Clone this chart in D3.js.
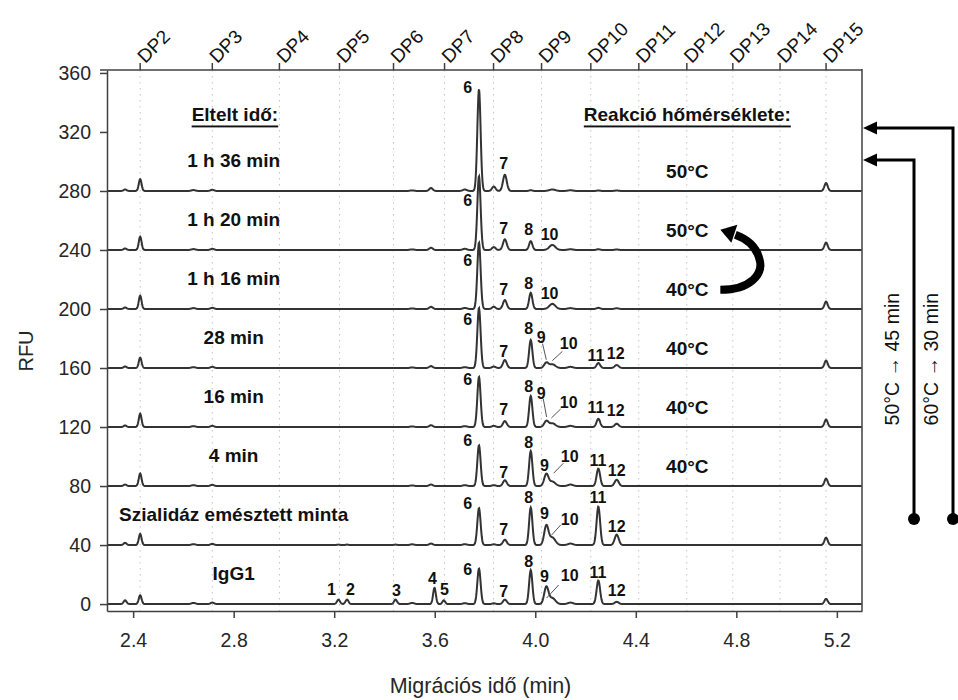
<!DOCTYPE html>
<html>
<head>
<meta charset="utf-8">
<script src="https://cdn.jsdelivr.net/npm/d3@7"></script>
<style>
  body { margin: 0; background: #fff; }
  text { font-family: "Liberation Sans", Arial, sans-serif; }
</style>
</head>
<body>
<div id="chart"></div>
<script>
// csúcsok: migrációs idő (min) és szélesség (szigma, min)
const peakTimes  = [2.368, 2.428, 2.640, 2.715, 3.217, 3.251, 3.444, 3.510, 3.585, 3.599, 3.636,
                    3.720, 3.776, 3.835, 3.879, 3.982, 4.044, 4.068, 4.140, 4.251, 4.324, 5.157];
const peakSigmas = [0.006, 0.0055, 0.008, 0.007, 0.006, 0.006, 0.006, 0.008, 0.007, 0.0055, 0.0055,
                    0.008, 0.0065, 0.007, 0.0075, 0.0065, 0.0085, 0.012, 0.01, 0.007, 0.008, 0.0065];

// csúcsmagasságok (RFU) mintánként, a peakTimes sorrendjében
const hIgG1  = [2.5, 6, 0.8, 1, 3, 3, 3, 0.8, 0, 11, 2.5, 0.6, 24, 0.5, 3, 23, 11.5, 4, 1, 16, 1.5, 3.5];
const hSzial = [1.5, 7.5, 0.6, 0.8, 0.3, 0.3, 0.3, 0.5, 1, 0, 0, 0.6, 25, 0.5, 3.6, 25.5, 13, 5, 1, 26, 7, 5];
const h4min  = [1, 8.5, 0.6, 0.8, 0, 0, 0, 0.4, 1, 0, 0, 0.6, 27.6, 0.6, 3.9, 23.7, 8, 3, 1, 11.8, 4.3, 5];
const h16min = [1, 9, 0.6, 0.8, 0, 0, 0, 0.4, 1.2, 0, 0, 0.6, 34, 0.8, 4, 21, 4, 2.5, 0.8, 5.6, 2.2, 5];
const h28min = [1, 7, 0.6, 0.8, 0, 0, 0, 0.4, 1.3, 0, 0, 0.6, 40.7, 1, 5.4, 19, 3.5, 2.5, 0.8, 3.4, 2, 5];
const h1h16  = [1, 9, 0.6, 0.8, 0, 0, 0, 0.4, 1.5, 0, 0, 0.7, 45, 1.5, 6, 11, 0, 3.5, 0.6, 0.8, 0.5, 5];
const h1h20  = [1, 9, 0.6, 0.8, 0, 0, 0, 0.4, 1.5, 0, 0, 0.8, 50, 2, 7.2, 6, 0, 3.4, 0.5, 0.5, 0.3, 5];
const h1h36  = [1, 8, 0.6, 0.8, 0, 0, 0, 0.4, 2, 0, 0, 1, 69, 3, 11, 0.5, 0, 1, 0.5, 0.3, 0.3, 5.4];

const traceNames   = ["IgG1", "Szialidáz emésztett minta", "4 min", "16 min", "28 min", "1 h 16 min", "1 h 20 min", "1 h 36 min"];
const traceOffsets = [0, 40, 80, 120, 160, 200, 240, 280];
const traceTemps   = ["", "", "40°C", "40°C", "40°C", "40°C", "50°C", "50°C"];
const traceHeights = [hIgG1, hSzial, h4min, h16min, h28min, h1h16, h1h20, h1h36];

// csúcsjelölések: [szöveg, idő, RFU az alapvonal fölött]
const labIgG1  = [["1", 3.189, 10.2], ["2", 3.265, 10.2], ["3", 3.448, 9.5], ["4", 3.591, 17.6], ["5", 3.639, 10.2],
                  ["6", 3.731, 23.7], ["7", 3.874, 8.8], ["8", 3.974, 29], ["9", 4.037, 19], ["10", 4.137, 19.7],
                  ["11", 4.249, 21.7], ["12", 4.324, 9.5]];
const labSzial = [["6", 3.731, 28.5], ["7", 3.874, 10.8], ["8", 3.974, 31.9], ["9", 4.037, 21.7], ["10", 4.137, 17.6],
                  ["11", 4.249, 32.5], ["12", 4.324, 12.9]];
const lab4min  = [["6", 3.731, 31.2], ["7", 3.874, 9.5], ["8", 3.974, 29.2], ["9", 4.037, 14.2], ["10", 4.137, 19.7],
                  ["11", 4.249, 17.6], ["12", 4.324, 10.2]];
const lab16min = [["6", 3.731, 32.5], ["7", 3.874, 12.2], ["8", 3.974, 27.8], ["9", 4.024, 22.4], ["10", 4.133, 16.9],
                  ["11", 4.241, 12.9], ["12", 4.32, 11.5]];
const lab28min = [["6", 3.731, 33.2], ["7", 3.874, 11.5], ["8", 3.974, 27.1], ["9", 4.024, 21], ["10", 4.133, 16.3],
                  ["11", 4.241, 8.8], ["12", 4.32, 9.5]];
const lab1h16  = [["6", 3.731, 33.2], ["7", 3.874, 12.9], ["8", 3.974, 17], ["10", 4.057, 10.8]];
const lab1h20  = [["6", 3.731, 33.6], ["7", 3.874, 14.6], ["8", 3.974, 13.9], ["10", 4.057, 10.5]];
const lab1h36  = [["6", 3.731, 69.8], ["7", 3.874, 18.3]];
const traceLabels = [labIgG1, labSzial, lab4min, lab16min, lab28min, lab1h16, lab1h20, lab1h36];

// vezetővonalak a 9-es / 10-es jelöléshez: [t1, r1, t2, r2]
const leaders = [
  [[4.045, 4.1, 4.093, 12.9]],
  [[4.065, 6.8, 4.101, 13.6]],
  [[4.073, 8.7, 4.112, 15.5]],
  [[4.032, 19, 4.045, 6.8], [4.064, 6.1, 4.101, 12.2]],
  [[4.029, 16.5, 4.044, 5.6], [4.068, 5, 4.108, 11.3]],
  [], [], []
];

const dpLabels = ["DP2", "DP3", "DP4", "DP5", "DP6", "DP7", "DP8", "DP9", "DP10", "DP11", "DP12", "DP13", "DP14", "DP15"];
const dpTimes  = [2.428, 2.715, 2.982, 3.221, 3.436, 3.639, 3.834, 4.025, 4.221, 4.412, 4.603, 4.786, 4.974, 5.157];
const xTicks = [2.4, 2.8, 3.2, 3.6, 4.0, 4.4, 4.8, 5.2];
const yTicks = [0, 40, 80, 120, 160, 200, 240, 280, 320, 360];

const W = 958, H = 700;
const margin = {top: 70, right: 96, bottom: 89, left: 107};
const width = W - margin.left - margin.right;
const height = H - margin.top - margin.bottom;
const axisColor = "#404040";

const svg = d3.select("#chart").append("svg")
    .attr("width", W)
    .attr("height", H);
const g = svg.append("g").attr("transform", "translate(" + margin.left + "," + margin.top + ")");

const x = d3.scaleLinear().domain([2.296, 5.30]).range([0, width]);
const y = d3.scaleLinear().domain([-4.7, 362]).range([height, 0]);

// pontozott rácsvonalak a DP pozícióknál
g.selectAll(".grid").data(dpTimes).enter().append("line")
    .attr("x1", d => x(d)).attr("x2", d => x(d))
    .attr("y1", 0).attr("y2", height)
    .attr("stroke", "#c4c4c4")
    .attr("stroke-width", 1)
    .attr("stroke-dasharray", "1.5,4.5");

g.append("clipPath").attr("id", "clip")
  .append("rect").attr("width", width).attr("height", height);

// elektroferogramok
const tGrid = d3.range(2.296, 5.30, 0.0015);
const line = d3.line().x(d => x(d[0])).y(d => y(d[1]));
traceHeights.forEach(function (h, i) {
    const pts = tGrid.map(function (t) {
        let v = traceOffsets[i];
        peakTimes.forEach(function (p, k) {
            if (h[k]) v += h[k] * Math.exp(-((t - p) * (t - p)) / (2 * peakSigmas[k] * peakSigmas[k]));
        });
        return [t, v];
    });
    g.append("path")
        .datum(pts)
        .attr("clip-path", "url(#clip)")
        .attr("fill", "none")
        .attr("stroke", "#333")
        .attr("stroke-width", 2)
        .attr("d", line);
});

// vezetővonalak
leaders.forEach(function (ls, i) {
    ls.forEach(function (l) {
        g.append("line")
            .attr("x1", x(l[0])).attr("y1", y(traceOffsets[i] + l[1]))
            .attr("x2", x(l[2])).attr("y2", y(traceOffsets[i] + l[3]))
            .attr("stroke", "#555").attr("stroke-width", 1);
    });
});

// csúcsszámok
traceLabels.forEach(function (labs, i) {
    g.selectAll(null).data(labs).enter().append("text")
        .attr("x", d => x(d[1]))
        .attr("y", d => y(traceOffsets[i] + d[2]))
        .attr("text-anchor", "middle")
        .attr("dominant-baseline", "central")
        .style("font-size", "16px")
        .style("font-weight", "bold")
        .attr("fill", "#111")
        .text(d => d[0]);
});

// minta nevek és hőmérsékletek
g.selectAll(".tname").data(traceNames).enter().append("text")
    .attr("x", x(2.8))
    .attr("y", (d, i) => y(traceOffsets[i] + 20.5))
    .attr("text-anchor", "middle")
    .attr("dominant-baseline", "central")
    .style("font-size", "19px").style("font-weight", "bold")
    .attr("fill", "#111")
    .text(d => d);

g.selectAll(".temp").data(traceTemps).enter().append("text")
    .attr("x", x(4.605))
    .attr("y", (d, i) => y(traceOffsets[i] + 13))
    .attr("text-anchor", "middle")
    .attr("dominant-baseline", "central")
    .style("font-size", "19px").style("font-weight", "bold")
    .attr("fill", "#111")
    .text(d => d);

g.append("text")
    .attr("x", x(2.805)).attr("y", y(331.5))
    .attr("text-anchor", "middle").attr("dominant-baseline", "central")
    .style("font-size", "19px").style("font-weight", "bold")
    .style("text-decoration", "underline")
    .attr("fill", "#111")
    .text("Eltelt idő:");

g.append("text")
    .attr("x", x(4.605)).attr("y", y(331.5))
    .attr("text-anchor", "middle").attr("dominant-baseline", "central")
    .style("font-size", "19px").style("font-weight", "bold")
    .style("text-decoration", "underline")
    .attr("fill", "#111")
    .text("Reakció hőmérséklete:");

// ívelt nyíl 40°C -> 50°C
const ax = x(4.605) + 33, ay = y(200 + 13);
g.append("path")
    .attr("d", "M" + ax + "," + ay +
        " C" + (ax + 30) + "," + ay + " " + (ax + 44) + "," + (ay - 16) + " " + (ax + 39) + "," + (ay - 31) +
        " C" + (ax + 36) + "," + (ay - 43) + " " + (ax + 26) + "," + (ay - 51) + " " + (ax + 15) + "," + (ay - 55))
    .attr("fill", "none").attr("stroke", "#000").attr("stroke-width", 8);
g.append("polygon")
    .attr("points", [[ax, ay - 60], [ax + 17, ay - 65], [ax + 11, ay - 47]].map(p => p.join(",")).join(" "))
    .attr("fill", "#000");

// tengelyek
const yAxis = g.append("g")
    .call(d3.axisLeft(y).tickValues(yTicks).tickSize(7).tickPadding(9).tickSizeOuter(0));
const xAxis = g.append("g")
    .attr("transform", "translate(0," + height + ")")
    .call(d3.axisBottom(x).tickValues(xTicks).tickFormat(d3.format(".1f")).tickSize(7).tickPadding(15).tickSizeOuter(0));
[yAxis, xAxis].forEach(function (a) {
    a.selectAll("path, line").attr("stroke", axisColor).attr("stroke-width", 1.5);
    a.selectAll("text").attr("fill", "#262626").style("font-size", "19.5px").style("font-family", "'Liberation Sans', Arial, sans-serif");
});

// felső DP tengely
const dpAxis = g.append("g");
dpAxis.append("line").attr("x1", -7).attr("x2", width).attr("y1", 0).attr("y2", 0)
    .attr("stroke", axisColor).attr("stroke-width", 1.5);
dpAxis.selectAll(".dpt").data(dpTimes).enter().append("line")
    .attr("x1", d => x(d)).attr("x2", d => x(d)).attr("y1", 0).attr("y2", -7)
    .attr("stroke", axisColor).attr("stroke-width", 1.5);
dpAxis.selectAll(".dpl").data(dpLabels).enter().append("text")
    .attr("x", 0).attr("y", 0)
    .attr("transform", (d, i) => "translate(" + (x(dpTimes[i]) + 5) + ",-6) rotate(-45)")
    .attr("text-anchor", "start")
    .style("font-size", "19px")
    .attr("fill", "#111")
    .text(d => d);

// jobb oldali keret
g.append("line").attr("x1", width).attr("x2", width).attr("y1", -1).attr("y2", height)
    .attr("stroke", axisColor).attr("stroke-width", 1.5);

// tengelyfeliratok
svg.append("text")
    .attr("transform", "translate(26," + (margin.top + 281) + ") rotate(-90)")
    .attr("text-anchor", "middle").attr("dominant-baseline", "central")
    .style("font-size", "20px").attr("fill", "#262626")
    .text("RFU");
svg.append("text")
    .attr("x", margin.left + width / 2 - 4).attr("y", 693)
    .attr("text-anchor", "middle")
    .style("font-size", "21.5px").attr("fill", "#262626")
    .text("Migrációs idő (min)");

// jobb oldali hőkezelés jelölések
const brackets = [
    {dx: 52, yTop: 301, text: "50°C \u2192 45 min"},
    {dx: 91, yTop: 322.7, text: "60°C \u2192 30 min"}
];
brackets.forEach(function (b) {
    const bx = width + b.dx, by = y(b.yTop), bot = y(57.6);
    g.append("path")
        .attr("d", "M" + bx + "," + bot + " L" + bx + "," + by + " L" + (width + 13) + "," + by)
        .attr("fill", "none").attr("stroke", "#000").attr("stroke-width", 3);
    g.append("polygon")
        .attr("points", [[width + 1, by], [width + 15, by - 6.5], [width + 15, by + 6.5]].map(p => p.join(",")).join(" "))
        .attr("fill", "#000");
    g.append("circle").attr("cx", bx).attr("cy", bot).attr("r", 6).attr("fill", "#000");
    g.append("text")
        .attr("transform", "translate(" + (bx - 22) + "," + y(166) + ") rotate(-90)")
        .attr("text-anchor", "middle").attr("dominant-baseline", "central")
        .style("font-size", "19.5px").attr("fill", "#111")
        .text(b.text);
});
</script>
</body>
</html>
